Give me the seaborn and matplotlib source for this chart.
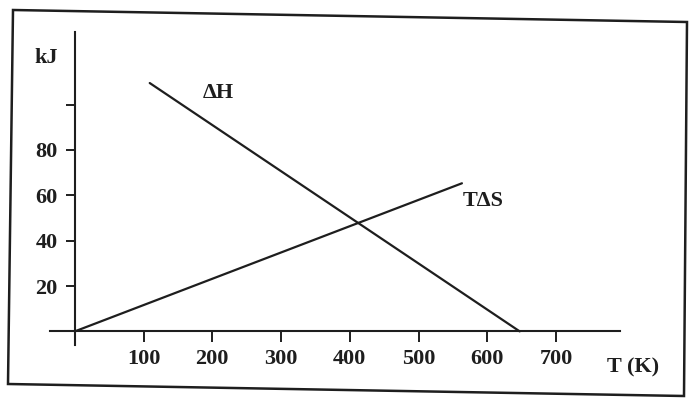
import pandas as pd
import matplotlib.pyplot as plt
import seaborn as sns
from matplotlib.patches import Polygon

# values
t_dh = [109, 647]          # T (K) at ends of the Delta H line
dh = [109.5, 0]            # kJ
t_ds = [0, 563]            # T (K) at ends of the T Delta S line
tds = [0, 65.3]            # kJ
x_ticks = [100, 200, 300, 400, 500, 600, 700]
y_ticks = [20, 40, 60, 80, 100]
y_labels = ['20', '40', '60', '80', '']

sns.set_style('white')
plt.rcParams['font.family'] = ['Liberation Serif', 'DejaVu Serif']
plt.rcParams['font.weight'] = 'bold'

ink = '#1e1e1e'
fs = 16
fig = plt.figure(figsize=(6.89, 4.0), dpi=100)
ax = fig.add_axes([0.0726, 0.1375, 0.8274, 0.7825])
ax.set_facecolor('none')

df_h = pd.DataFrame({'T': t_dh, 'kJ': dh})
df_s = pd.DataFrame({'T': t_ds, 'kJ': tds})
sns.lineplot(data=df_h, x='T', y='kJ', color=ink, lw=1.6, ax=ax)
sns.lineplot(data=df_s, x='T', y='kJ', color=ink, lw=1.6, ax=ax)

ax.set_xlim(-36, 793)
ax.set_ylim(-6, 132)
for side in ['top', 'right']:
    ax.spines[side].set_visible(False)
ax.spines['left'].set_position(('data', 0))
ax.spines['bottom'].set_position(('data', 0))
for side in ['left', 'bottom']:
    ax.spines[side].set_color(ink)
    ax.spines[side].set_linewidth(1.5)

ax.set_xticks(x_ticks)
ax.set_xticklabels([str(v) for v in x_ticks])
ax.set_yticks(y_ticks)
ax.set_yticklabels(y_labels)
ax.tick_params(axis='x', bottom=True, direction='out', length=8, width=1.4,
               color=ink, pad=5, labelsize=fs, labelcolor=ink)
ax.tick_params(axis='y', left=True, direction='out', length=6.5, width=1.4,
               color=ink, pad=6, labelsize=fs, labelcolor=ink)
ax.set_xlabel('')
ax.set_ylabel('')

ax.text(208, 105, '\u0394H', fontsize=fs, fontweight='bold', color=ink,
        ha='center', va='center')
ax.text(594, 57.4, 'T\u0394S', fontsize=fs, fontweight='bold', color=ink,
        ha='center', va='center')
ax.text(812, -16, 'T (K)', fontsize=fs, fontweight='bold', color=ink,
        ha='center', va='center', clip_on=False)
ax.text(-41, 120.5, 'kJ', fontsize=fs, fontweight='bold', color=ink,
        ha='center', va='center', clip_on=False)

# scanned frame, slightly skewed
W, H = 689, 400
corners = [(13, 10), (687, 22), (684, 396), (8, 384)]
frame = Polygon([(x / W, 1 - y / H) for x, y in corners], closed=True,
                fill=False, edgecolor=ink, lw=1.8, transform=fig.transFigure)
fig.patches.append(frame)

plt.savefig('out.png', dpi=100)
